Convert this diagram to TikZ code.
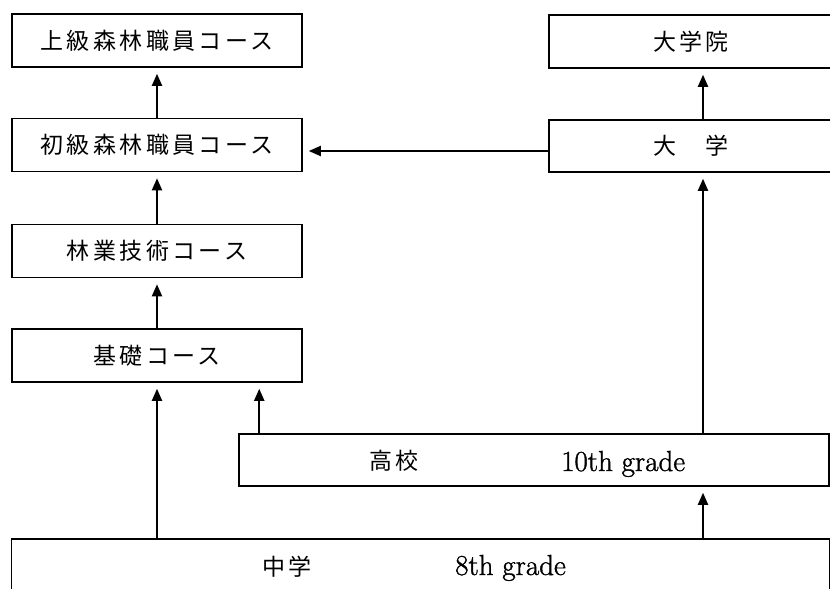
\documentclass[tikz,border=0pt]{standalone}
\usepackage{fontspec}
\newfontfamily\jp[LetterSpace=15]{Noto Sans CJK JP}
\newfontfamily\latf[FakeBold=1.2]{Latin Modern Roman}
\usetikzlibrary{arrows.meta}
\begin{document}
\begin{tikzpicture}[x=1pt,y=-1pt,
  box/.style={draw, line width=1.5pt, minimum height=53pt, inner sep=0pt, font=\jp\fontsize{23}{23}\selectfont},
  jpt/.style={inner sep=0pt, font=\jp\fontsize{23}{23}\selectfont},
  lat/.style={inner sep=0pt, font=\latf\fontsize{29}{29}\selectfont},
  arr/.style={line width=1.9pt, -{Triangle[length=12pt,width=10pt]}, shorten >=6pt}]
\useasboundingbox (0,0) rectangle (830,589);
\clip (0,0) rectangle (830,589);
\node[box, minimum width=290pt] (jokyu) at (157,40.5) {上級森林職員コース};
\node[box, minimum width=290pt] (shokyu) at (157,145) {初級森林職員コース};
\node[box, minimum width=290pt] (ringyo) at (157,251) {林業技術コース};
\node[box, minimum width=290pt] (kiso) at (157,355.5) {基礎コース};
\node[box, minimum width=284pt] (daigakuin) at (691,41.5) {大学院};
\node[box, minimum width=284pt, minimum height=52pt] (daigaku) at (691,146) {大　学};
\node[box, minimum width=590pt, minimum height=52pt] (koko) at (534,460) {};
\node[box, minimum width=818pt] (chugaku) at (420.5,565.5) {};
\node[jpt, anchor=west] (kokot) at (369,461) {高校};
\node[lat, anchor=base west] (kokog) at (561,471) {10th grade};
\node[jpt, anchor=west] (chut) at (262,567) {中学};
\node[lat, anchor=base west] (chug) at (455,575) {8th grade};
\coordinate (colR) at (703,0);
\coordinate (rowL) at (0,151);
\draw[arr] (shokyu) -- (jokyu);
\draw[arr] (ringyo) -- (shokyu);
\draw[arr] (kiso) -- (ringyo);
\draw[arr] (chugaku.north -| kiso) -- (kiso.south);
\draw[arr] ([xshift=21pt]koko.north west) -- ([xshift=21pt]koko.north west |- kiso.south);
\draw[arr] (chugaku.north -| colR) -- (koko.south -| colR);
\draw[arr] (koko.north -| colR) -- (daigaku.south -| colR);
\draw[arr] (daigaku.north -| colR) -- (daigakuin.south -| colR);
\draw[arr] (daigaku.west |- rowL) -- (shokyu.east |- rowL);
\end{tikzpicture}
\end{document}
